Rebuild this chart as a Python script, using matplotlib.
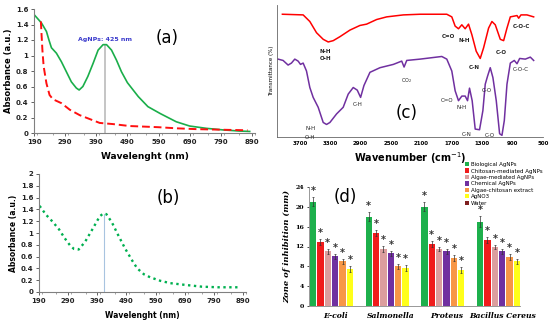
import numpy as np
import matplotlib
matplotlib.use("Agg")
import matplotlib.pyplot as plt
from matplotlib.ticker import MultipleLocator, FuncFormatter

# ---- (a) UV-vis: AgNPs vs extract ----
a_green_nm = [192, 214, 230, 238, 246, 262, 278, 294, 310, 326, 335, 347, 363, 380, 396, 412,
              423, 439, 455, 471, 490, 525, 556, 596, 647, 690, 744, 797, 851, 883]
a_green_abs = [1.52, 1.42, 1.31, 1.2, 1.10, 1.03, 0.92, 0.79, 0.66, 0.58, 0.555, 0.60, 0.73, 0.90,
               1.07, 1.14, 1.14, 1.07, 0.94, 0.79, 0.65, 0.47, 0.34, 0.25, 0.145, 0.09, 0.06,
               0.04, 0.025, 0.02]
a_red_nm = [212, 214, 217, 221, 230, 240, 251, 278, 305, 337, 369, 401, 444, 497, 589, 650,
            711, 818, 876]
a_red_abs = [1.44, 1.29, 1.07, 0.86, 0.64, 0.49, 0.435, 0.385, 0.30, 0.23, 0.18, 0.13, 0.115,
             0.09, 0.075, 0.06, 0.05, 0.04, 0.035]
a_peak_nm = 419
a_peak_abs = 1.14

# ---- (b) UV-vis: chemical AgNPs ----
b_nm = [192, 214, 237, 259, 277, 298, 310, 326, 348, 374, 398, 410, 421, 440, 462, 485,
        510, 527, 550, 571, 606, 640, 692, 749, 805, 880]
b_abs = [1.46, 1.31, 1.19, 1.06, 0.92, 0.78, 0.73, 0.72, 0.85, 1.07, 1.28, 1.33, 1.32, 1.18,
         0.96, 0.74, 0.53, 0.40, 0.30, 0.25, 0.19, 0.15, 0.12, 0.09, 0.08, 0.08]
b_peak_nm = 413
b_peak_abs = 1.33

# ---- (c) FTIR ----
c_red_wn = [3929, 3656, 3568, 3480, 3392, 3326, 3260, 3172, 3040, 2909, 2821, 2689, 2557, 2337,
            2117, 1766, 1700, 1656, 1612, 1568, 1524, 1480, 1436, 1379, 1326, 1282, 1216, 1172,
            1128, 1062, 1018, 974, 930, 842, 820, 790, 711, 623]
c_red_t = [93, 92.5, 87.5, 79, 74, 72, 73, 76, 81, 84.5, 85.5, 89, 91, 92.5,
           93, 93, 91, 84, 82, 85, 82, 85.5, 77.5, 65, 59.5, 67.5, 82.5, 87.5,
           85, 74, 73, 82.5, 91, 92, 90, 92.5, 92.5, 91]
c_pur_wn = [3986, 3920, 3854, 3810, 3766, 3722, 3691, 3656, 3612, 3568, 3524, 3458, 3392, 3348,
            3304, 3216, 3129, 3063, 2997, 2944, 2900, 2856, 2777, 2645, 2469, 2359, 2328, 2293,
            2117, 1832, 1766, 1700, 1656, 1612, 1568, 1524, 1493, 1467, 1432, 1392, 1335, 1291,
            1260, 1230, 1194, 1159, 1115, 1071, 1040, 1009, 974, 930, 878, 842, 807, 733, 667, 623]
c_pur_t = [59, 58, 54.5, 56, 59, 57.5, 55, 56, 50, 37.5, 30, 22.5, 11, 9.5,
           11, 17.5, 22.5, 32.5, 37.5, 35.5, 30, 39, 49, 52.5, 55, 57.5, 53, 58,
           59, 61, 59, 50, 35, 27.5, 31, 31, 27.5, 37, 27.5, 6, 5.5, 20,
           40, 46, 52.5, 45, 27.5, 2.5, 1.25, 12.5, 40, 56, 58, 55.5, 59.5, 59, 60.5, 58]
c_ticks = [3700, 3300, 2900, 2500, 2100, 1700, 1300, 900, 500]

# ---- (d) zone of inhibition ----
bacteria = ["E-coli", "Salmonella", "Proteus", "Bacillus Cereus"]
treatments = ["Biological AgNPs", "Chitosan-mediated AgNPs", "Algae-mediated AgNPs",
              "Chemical AgNPs", "Algae-chitosan extract", "AgNO3", "Water"]
zone_bio = [21, 18, 20, 17]
zone_chit = [13, 14.7, 12.6, 13.4]
zone_algae = [11, 11.5, 11.5, 11.9]
zone_chem = [10, 10.6, 11, 11]
zone_extract = [9, 8, 9.6, 9.9]
zone_agno3 = [7.5, 7.6, 7.3, 9]
zone_water = [0, 0, 0, 0]
zone_err = [[0.9, 0.9, 0.9, 1.1], [0.6, 0.6, 0.6, 0.6], [0.5, 0.6, 0.5, 0.5],
            [0.5, 0.5, 0.5, 0.5], [0.5, 0.5, 0.6, 0.6], [0.6, 0.6, 0.6, 0.5], [0, 0, 0, 0]]
bar_colors = ["#1db04c", "#f01c1c", "#dc9e9e", "#7030a0", "#f79646", "#ffff1a", "#7f1f1f"]

num_fmt = FuncFormatter(lambda v, p: f"{v:g}")

fig = plt.figure(figsize=(5.5, 3.22), dpi=100)
W, H = 550.0, 322.0


def px_axes(l, t, r, b):
    return fig.add_axes([l / W, 1 - b / H, (r - l) / W, (b - t) / H])


def style_uv(ax, ymax, ystep):
    ax.set_xlim(190, 900)
    ax.set_ylim(0, ymax)
    ax.xaxis.set_minor_locator(MultipleLocator(50))
    ax.set_xticks(np.arange(190, 891, 100))
    ax.yaxis.set_major_locator(MultipleLocator(ystep))
    ax.yaxis.set_major_formatter(num_fmt)
    for s in ["top", "right"]:
        ax.spines[s].set_visible(False)
    for s in ["left", "bottom"]:
        ax.spines[s].set_color("#808080")
        ax.spines[s].set_linewidth(0.8)
    ax.tick_params(labelsize=5, colors="#222222", length=2, width=0.5, pad=2)
    ax.tick_params(which="minor", length=1.5, width=0.5, color="#808080")
    for lab in ax.get_xticklabels() + ax.get_yticklabels():
        lab.set_fontweight("bold")


# (a)
ax = px_axes(34, 9, 255, 133)
ax.plot(a_green_nm, a_green_abs, color="#1aae4a", lw=1.2)
ax.plot(a_red_nm, a_red_abs, color="#ff1010", lw=1.4, ls=(0, (4, 2)))
ax.plot([a_peak_nm, a_peak_nm], [0, a_peak_abs], color="#bbbbbb", lw=1.2, zorder=0)
ax.text(a_peak_nm, 1.21, "AgNPs: 425 nm", color="#3a3acc", fontsize=4.5, fontweight="bold",
        ha="center", va="center")
ax.text(617, 1.22, "(a)", fontsize=12, ha="center", va="center")
style_uv(ax, 1.6, 0.2)
ax.set_ylabel("Absorbance (a.u.)", fontsize=6, fontweight="bold", labelpad=2)
ax.set_xlabel("Wavelenght (nm)", fontsize=6.5, fontweight="bold", labelpad=5)

# (b)
ax = px_axes(39, 174, 246, 292)
ax.plot(b_nm, b_abs, color="#00b050", lw=1.7, ls=(0, (1, 1.5)), dash_capstyle="butt")
ax.plot([b_peak_nm, b_peak_nm], [0, b_peak_abs], color="#a8c4e0", lw=0.8, zorder=0)
ax.text(634, 1.6, "(b)", fontsize=12, ha="center", va="center")
style_uv(ax, 2.0, 0.2)
ax.set_ylabel("Absorbance (a.u.)", fontsize=5.5, fontweight="bold", labelpad=2)
ax.set_xlabel("Wavelenght (nm)", fontsize=5.5, fontweight="bold", labelpad=5)

# (c)
ax = px_axes(277, 5, 543, 137)
ax.plot(c_red_wn, c_red_t, color="#ff0000", lw=1.1)
ax.plot(c_pur_wn, c_pur_t, color="#7030a0", lw=1.1)
ax.set_xlim(4000, 500)
ax.set_ylim(0, 100)
ax.set_xticks(c_ticks)
ax.set_yticks([])
for s in ["top", "right"]:
    ax.spines[s].set_visible(False)
for s in ["left", "bottom"]:
    ax.spines[s].set_color("#666666")
    ax.spines[s].set_linewidth(0.6)
ax.tick_params(labelsize=4, length=0, pad=3)
for lab in ax.get_xticklabels():
    lab.set_fontweight("bold")
ax.set_xlabel("Wavenumber (cm$^{-1}$)", fontsize=7, fontweight="bold", labelpad=3)
ax.set_ylabel("Transmittance (%)", fontsize=4, labelpad=2)
ann = dict(fontsize=4, fontweight="bold", ha="center", va="center", color="#222222", linespacing=1.4)
ax.text(3360, 62, "N-H\nO-H", **ann)
ax.text(1740, 76, "C=O", **ann)
ax.text(1540, 73, "N-H", **ann)
ax.text(1400, 53, "C-N", **ann)
ax.text(1050, 64, "C-O", **ann)
ax.text(790, 84, "C-O-C", **ann)
ax.text(3560, 3, "N-H\nO-H", fontsize=4, ha="center", va="center", color="#222222", linespacing=1.8)
ax.text(2935, 25, "C-H", fontsize=4, ha="center", va="center", color="#222222")
ax.text(2300, 43, "CO$_2$", fontsize=3.5, ha="center", va="center", color="#222222")
ax.text(1760, 28, "C=O", fontsize=4, ha="center", va="center", color="#222222")
ax.text(1570, 22, "N-H", fontsize=4, ha="center", va="center", color="#222222")
ax.text(1510, 2, "C-N", fontsize=4, ha="center", va="center", color="#222222")
ax.text(1240, 35, "C-O", fontsize=4, ha="center", va="center", color="#222222")
ax.text(1200, 1, "C-O", fontsize=4, ha="center", va="center", color="#222222")
ax.text(790, 51, "C-O-C", fontsize=4, ha="center", va="center", color="#222222")
ax.text(2300, 18, "(c)", fontsize=12, ha="center", va="center")

# (d)
ax = px_axes(309, 187, 520, 306)
zones = [zone_bio, zone_chit, zone_algae, zone_chem, zone_extract, zone_agno3, zone_water]
x = np.arange(len(bacteria))
step = 0.132
for i, (vals, err, col, lab) in enumerate(zip(zones, zone_err, bar_colors, treatments)):
    xs = x + (i - 3) * step
    ax.bar(xs, vals, width=0.118, color=col, edgecolor="none", label=lab)
    if i < 6:
        ax.errorbar(xs, vals, yerr=err, fmt="none", ecolor="#333333", elinewidth=0.5,
                    capsize=1, capthick=0.5)
        for xx, v, e in zip(xs, vals, err):
            ax.text(xx, v + e + 0.2, "*", fontsize=7, fontweight="bold", ha="center",
                    va="bottom", color="#333333")
ax.set_xlim(-0.47, 3.32)
ax.set_ylim(0, 24)
ax.set_yticks(np.arange(0, 25, 4))
ax.set_xticks(x)
ax.set_xticklabels(bacteria, fontsize=5.5, fontweight="bold", style="italic", family="serif")
for lab in ax.get_yticklabels():
    lab.set_fontsize(4.5)
    lab.set_fontweight("bold")
    lab.set_family("serif")
for s in ["top", "right"]:
    ax.spines[s].set_visible(False)
for s in ["left", "bottom"]:
    ax.spines[s].set_color("#888888")
    ax.spines[s].set_linewidth(0.6)
ax.tick_params(axis="x", length=0, pad=4)
ax.tick_params(axis="y", length=1.5, width=0.5, pad=2)
ax.set_ylabel("Zone of inhibition (mm)", fontsize=6, fontweight="bold", style="italic",
              family="serif", labelpad=3)
ax.text(0.18, 22, "(d)", fontsize=12, ha="center", va="center")
leg = ax.legend(loc="upper left", bbox_to_anchor=(465 / W, 1 - 162 / H),
                bbox_transform=fig.transFigure, frameon=False, fontsize=4,
                handlelength=0.8, handleheight=0.8, handletextpad=0.3, labelspacing=0.25,
                borderaxespad=0, borderpad=0)

fig.savefig("out.png", dpi=100)
